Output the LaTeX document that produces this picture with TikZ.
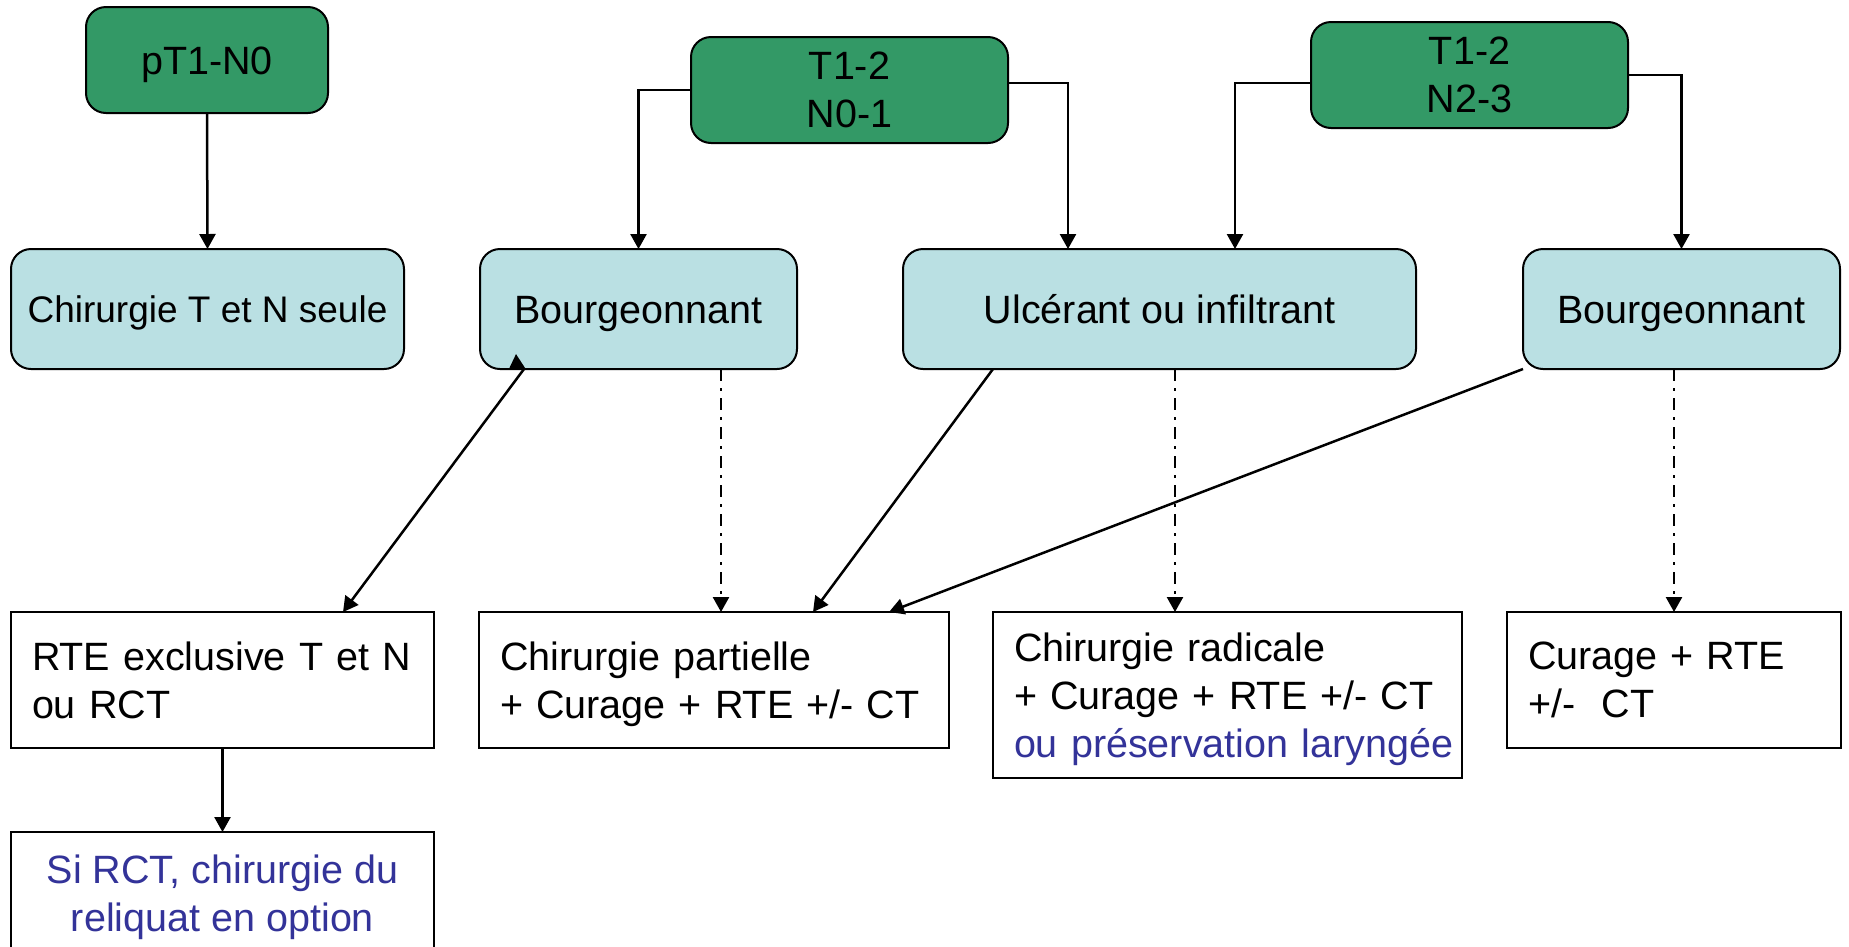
\documentclass[tikz,border=0pt]{standalone}
\usepackage{fontspec}
\setmainfont{Liberation Sans}
\usetikzlibrary{arrows.meta,calc}

\definecolor{stagegreen}{HTML}{339966}
\definecolor{paleteal}{HTML}{BAE0E3}
\definecolor{noteblue}{HTML}{333399}

\tikzset{
  box/.style={draw=black, line width=2pt, inner sep=0pt, outer sep=0pt,
    font=\fontsize{39.5}{48}\selectfont},
  oneline/.style={text height=28.3pt, text depth=0pt},
  stage/.style={box, fill=stagegreen, rounded corners=20pt, align=center},
  kind/.style={box, fill=paleteal, rounded corners=20pt, align=center},
  treat/.style={box, fill=white, align=left, inner xsep=21pt},
  note/.style={box, fill=white, align=center, text=noteblue},
  arr/.style={-{Triangle[length=15pt,width=16pt]}, line width=2.5pt},
  alt/.style={arr, dash pattern=on 12pt off 7pt on 3pt off 7pt},
}

\begin{document}
\begin{tikzpicture}[x=1pt,y=-1pt]
  \useasboundingbox (0,0) rectangle (1849,946);
  \clip (0,0) rectangle (1849,946);

  % stage boxes
  \node[stage, oneline, minimum width=242, minimum height=106] (a) at (207,60) {pT1-N0};
  \node[stage, minimum width=317, minimum height=106] (b) at (849.5,90) {T1-2\\N0-1};
  \node[stage, minimum width=317, minimum height=106] (c) at (1469.5,75) {T1-2\\N2-3};

  % tumour aspect boxes
  \node[kind, minimum width=393, minimum height=120, font=\fontsize{37}{44}\selectfont,
    text height=26.5pt, text depth=0pt] (d) at (207.5,309) {Chirurgie T et N seule};
  \node[kind, oneline, minimum width=317, minimum height=120] (e) at (638.5,309) {Bourgeonnant};
  \node[kind, oneline, minimum width=513, minimum height=120] (f) at (1159.5,309) {Ulcérant ou infiltrant};
  \node[kind, oneline, minimum width=317, minimum height=120] (g) at (1681.5,309) {Bourgeonnant};

  % treatment boxes (descenders of the last line kept out of the centring)
  \node[treat, text width=381, minimum height=136] (h) at (222.5,680)
    {RTE exclusive T et N\\ou RCT};
  \node[treat, text width=428, minimum height=136] (i) at (714,680)
    {Chirurgie partielle\\\smash{+ Curage + RTE +/- CT}};
  \node[treat, text width=427, minimum height=166] (j) at (1227.5,695)
    {Chirurgie radicale\\+ Curage + RTE +/- CT\\\smash{\textcolor{noteblue}{ou préservation laryngée}}};
  \node[treat, text width=292, minimum height=136] (k) at (1674,680)
    {Curage + RTE\\+/-\ \ CT};
  \node[note, minimum width=423, minimum height=122] (l) at (222.5,893)
    {Si RCT, chirurgie du\\\smash{reliquat en option}};

  % stage to aspect
  \draw[arr] (a.south) -- (d.north);
  \draw[arr] (b.west) -| (e.north);
  \draw[arr] ($(b.east)+(0,-7)$) -| ($(f.north west)+(165,0)$);
  \draw[arr] ($(c.west)+(0,8)$) -| ($(f.north west)+(332,0)$);
  \draw[arr] (c.east) -| (g.north);

  % aspect to treatment
  \coordinate (eout) at ($(e.south west)+(44,0)$);
  \draw[arr] (eout) -- ($(h.north west)+(332,0)$);
  \draw[arr] ($(eout)+(-7,0)$) -- ++(-1,-15);
  \draw[arr] ($(f.south west)+(90,0)$) -- ($(i.north west)+(334,0)$);
  \draw[arr] (g.south west) -- ($(i.north west)+(410,0)$);

  \coordinate (eopt) at ($(e.south west)+(241,0)$);
  \draw[alt] (eopt) -- (eopt |- i.north);
  \coordinate (fopt) at ($(f.south west)+(272,0)$);
  \draw[alt] (fopt) -- (fopt |- j.north);
  \draw[alt] (k.north |- g.south) -- (k.north);

  \draw[arr] (h.south) -- (l.north);
\end{tikzpicture}
\end{document}
